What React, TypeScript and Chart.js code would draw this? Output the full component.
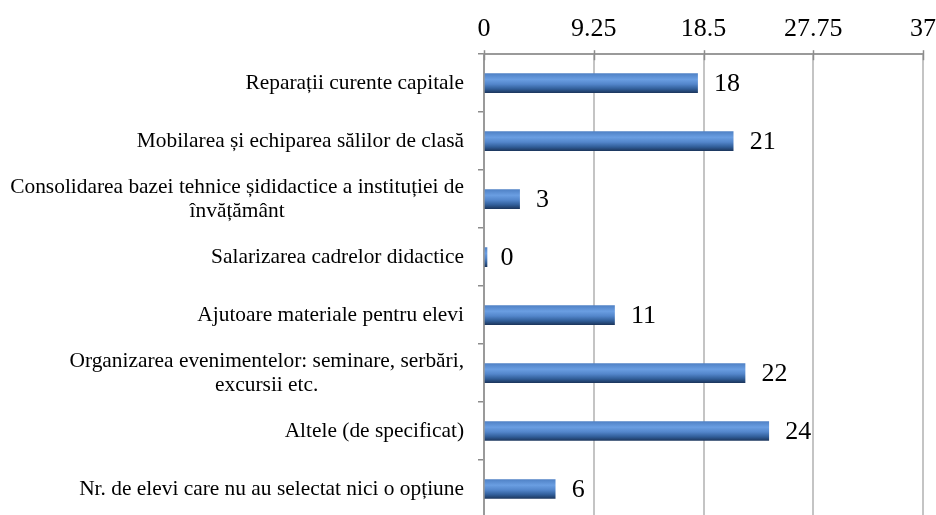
import React, { useEffect, useRef } from 'react';
import { Chart, registerables } from 'chart.js';

Chart.register(...registerables);

const categoryLines: string[][] = [
  ['Reparații curente capitale'],
  ['Mobilarea și echiparea sălilor de clasă'],
  ['Consolidarea bazei tehnice șididactice a instituției de', 'învățământ'],
  ['Salarizarea cadrelor didactice'],
  ['Ajutoare materiale pentru elevi'],
  ['Organizarea evenimentelor: seminare, serbări,', 'excursii etc.'],
  ['Altele (de specificat)'],
  ['Nr. de elevi care nu au selectat nici o opțiune'],
];
const values: number[] = [18, 21, 3, 0, 11, 22, 24, 6];
const tickValues: number[] = [0, 9.25, 18.5, 27.75, 37];

const FONT = "'Liberation Serif', 'Times New Roman', serif";
const BAR = 19;

const categoryLabelPlugin = {
  id: 'categoryLabels',
  afterDraw(chart: any) {
    const { ctx, chartArea } = chart;
    const ys = chart.scales.y;
    ctx.save();
    ctx.font = `21.4px ${FONT}`;
    ctx.fillStyle = '#000';
    ctx.textBaseline = 'middle';
    const lineH = 24;
    categoryLines.forEach((lines, i) => {
      const yc = ys.getPixelForValue(i);
      const widths = lines.map((l) => ctx.measureText(l).width);
      const widest = Math.max(...widths);
      const right = chartArea.left - 20;
      const cx = right - widest / 2;
      lines.forEach((l, j) => {
        const y = yc + (j - (lines.length - 1) / 2) * lineH;
        ctx.textAlign = 'left';
        ctx.fillText(l, cx - widths[j] / 2, y);
      });
    });
    ctx.restore();
  },
};

const valueLabelPlugin = {
  id: 'valueLabels',
  afterDatasetsDraw(chart: any) {
    const { ctx } = chart;
    const xs = chart.scales.x;
    const ys = chart.scales.y;
    ctx.save();
    ctx.font = `26px ${FONT}`;
    ctx.fillStyle = '#000';
    ctx.textBaseline = 'middle';
    ctx.textAlign = 'left';
    values.forEach((v, i) => {
      ctx.fillText(String(v), xs.getPixelForValue(v) + 16.5, ys.getPixelForValue(i) + 1);
    });
    ctx.restore();
  },
};

const axisTickPlugin = {
  id: 'axisTicks',
  afterDraw(chart: any) {
    const { ctx, chartArea } = chart;
    const xs = chart.scales.x;
    ctx.save();
    ctx.strokeStyle = '#8c8c8c';
    ctx.lineWidth = 1.5;
    tickValues.forEach((v) => {
      const x = Math.round(xs.getPixelForValue(v)) + 0.5;
      ctx.beginPath();
      ctx.moveTo(x, chartArea.top - 4);
      ctx.lineTo(x, chartArea.top + 6);
      ctx.stroke();
    });
    ctx.restore();
  },
};

export default function App() {
  const ref = useRef<HTMLCanvasElement | null>(null);

  useEffect(() => {
    if (!ref.current) return;
    const chart = new Chart(ref.current, {
      type: 'bar',
      data: {
        labels: categoryLines.map((l) => l.join(' ')),
        datasets: [
          {
            data: values,
            barThickness: BAR,
            minBarLength: 3,
            borderWidth: 0,
            backgroundColor: (c: any) => {
              const ch = c.chart;
              const ys = ch.scales && ch.scales.y;
              if (!ys || c.dataIndex === undefined) return '#4f81bd';
              const yc = ys.getPixelForValue(c.dataIndex);
              if (!isFinite(yc)) return '#4f81bd';
              const g = ch.ctx.createLinearGradient(0, yc - BAR / 2, 0, yc + BAR / 2);
              g.addColorStop(0, '#5082c6');
              g.addColorStop(0.3, '#6a9ee2');
              g.addColorStop(0.55, '#5386cb');
              g.addColorStop(0.8, '#315e99');
              g.addColorStop(1, '#1d3860');
              return g;
            },
          },
        ],
      },
      options: {
        indexAxis: 'y',
        responsive: false,
        animation: false,
        layout: { padding: { left: 478, right: 13, top: 5, bottom: 2 } },
        plugins: {
          legend: { display: false },
          tooltip: { enabled: false },
        },
        scales: {
          x: {
            type: 'linear',
            position: 'top',
            min: 0,
            max: 37,
            afterBuildTicks: (scale: any) => {
              scale.ticks = tickValues.map((v) => ({ value: v }));
            },
            afterFit: (scale: any) => {
              scale.paddingLeft = 0;
              scale.paddingRight = 0;
            },
            ticks: {
              padding: 9,
              color: '#000',
              font: { family: FONT, size: 26 },
              callback: (v: any) => String(v),
              maxRotation: 0,
              autoSkip: false,
            },
            grid: {
              color: '#c4c4c4',
              lineWidth: 2,
              drawTicks: false,
            },
            border: { display: true, color: '#9a9a9a', width: 2 },
          },
          y: {
            type: 'category',
            position: 'left',
            ticks: { display: false },
            grid: {
              drawOnChartArea: false,
              drawTicks: true,
              tickLength: 6,
              color: '#8c8c8c',
              lineWidth: 1.5,
              offset: true,
            },
            border: { display: true, color: '#9a9a9a', width: 2 },
          },
        },
      },
      plugins: [categoryLabelPlugin, valueLabelPlugin, axisTickPlugin],
    } as any);
    return () => chart.destroy();
  }, []);

  return (
    <div
      style={{
        position: 'fixed',
        left: 0,
        top: 0,
        width: 936,
        height: 515,
        overflow: 'hidden',
        background: '#fff',
      }}
    >
      <canvas ref={ref} width={936} height={520} style={{ display: 'block' }} />
    </div>
  );
}
